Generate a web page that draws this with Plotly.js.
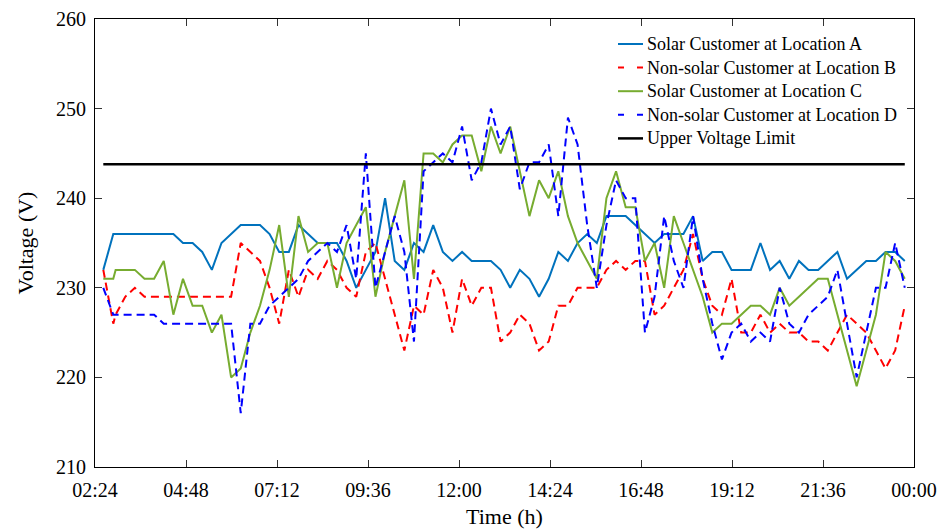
<!DOCTYPE html>
<html>
<head>
<meta charset="utf-8">
<script src="https://cdn.plot.ly/plotly-3.0.1.min.js"></script>
<style>
  html, body { margin: 0; padding: 0; background: #ffffff; }
  #chart { width: 942px; height: 530px; }
</style>
</head>
<body>
<div id="chart"></div>
<script>
// Sampling instants in hours of the day: two early readings, then the regular logger grid
const earlyStamps = [2.619, 2.882];
const gridStart = 2.9437;   // first regular sample (h)
const gridStep = 0.25382;   // sampling interval (h)
const gridCount = 83;

// Axis ticks
const xTickVals = [2.4, 4.8, 7.2, 9.6, 12, 14.4, 16.8, 19.2, 21.6, 24];
const xTickText = ['02:24', '04:48', '07:12', '09:36', '12:00', '14:24', '16:48', '19:12', '21:36', '00:00'];
const yTickVals = [210, 220, 230, 240, 250, 260];

// Series names
const seriesNames = [
  'Solar Customer at Location A',
  'Non-solar Customer at Location B',
  'Solar Customer at Location C',
  'Non-solar Customer at Location D',
  'Upper Voltage Limit'
];

// Measured voltages (V)
const voltsA = [232, 236,
  236, 236, 236, 236, 236, 236, 236, 235, 235, 234,
  232, 235, 236, 237, 237, 237, 236, 234, 234, 237,
  236, 235, 235, 235, 233, 230, 232, 234, 240, 233,
  232, 235, 234, 237, 234, 233, 234, 233, 233, 233,
  232, 230, 232, 231, 229, 231, 234, 233, 235, 236,
  235, 238, 238, 238, 237, 236, 235, 236, 236, 236,
  238, 233, 234, 234, 232, 232, 232, 235, 232, 233,
  231, 233, 232, 232, 233, 234, 231, 232, 233, 233,
  234, 234, 233];

const voltsB = [232, 226,
  227, 229, 230, 229, 229, 229, 229, 229, 229, 229,
  229, 229, 229, 235, 234, 233, 230, 226, 232, 229,
  232, 231, 233, 232, 230, 229, 234, 235, 231, 227,
  223, 228, 227, 232, 230, 225, 231, 228, 230, 230,
  224, 225, 227, 226, 223, 224, 228, 228, 230, 230,
  230, 232, 233, 232, 233, 233, 227, 228, 230, 232,
  236, 231, 228, 227, 231, 225, 225, 227, 225, 226,
  225, 225, 224, 224, 223, 225, 227, 226, 225, 223,
  221, 223, 228];

const voltsC = [231, 231,
  232, 232, 232, 231, 231, 233, 227, 231, 228, 228,
  225, 227, 220, 221, 225, 228, 232, 237, 229, 238,
  234, 235, 235, 230, 235, 237, 239, 229, 234, 238,
  242, 231, 245, 245, 244, 246, 247, 247, 243, 248,
  245, 248, 243, 238, 242, 240, 243, 238, 235, 233,
  231, 240, 243, 239, 239, 233, 235, 230, 238, 235,
  232, 229, 225, 226, 226, 227, 228, 228, 227, 230,
  228, 229, 230, 231, 231, 227, 223, 219, 223, 227,
  234, 233, 231];

const voltsD = [230, 227,
  227, 227, 227, 227, 227, 226, 226, 226, 226, 226,
  226, 226, 226, 216, 226, 226, 228, 229, 230, 231,
  233, 234, 235, 234, 237, 231, 245, 230, 234, 238,
  234, 224, 243, 244, 245, 244, 248, 242, 244, 250,
  246, 248, 241, 244, 244, 246, 238, 249, 246, 237,
  230, 237, 242, 240, 240, 225, 229, 238, 233, 230,
  238, 231, 226, 222, 225, 226, 224, 225, 224, 230,
  226, 225, 227, 228, 229, 232, 226, 220, 225, 230,
  230, 235, 230];

const upperLimit = 243.8;

// Build the time axis
const hours = earlyStamps.slice();
for (let k = 0; k < gridCount; k++) {
  hours.push(+(gridStart + k * gridStep).toFixed(4));
}

const serif = 'Liberation Serif, Times New Roman, serif';
const colors = ['#0072BD', '#FF0000', '#77AC30', '#0000FF', '#000000'];
const plotDash = '8px,5px';
const legendDash = '6px,13px';
const dashed = [false, true, false, true, false];
const widths = [2, 2, 2, 2, 2.5];

function lineTrace(i, y) {
  return {
    type: 'scatter',
    mode: 'lines',
    name: seriesNames[i],
    x: hours,
    y: y,
    line: { color: colors[i], width: widths[i], dash: dashed[i] ? plotDash : 'solid' },
    showlegend: false
  };
}

const traces = [
  lineTrace(0, voltsA),
  lineTrace(1, voltsB),
  lineTrace(2, voltsC),
  lineTrace(3, voltsD),
  {
    type: 'scatter',
    mode: 'lines',
    name: seriesNames[4],
    x: [hours[0], hours[hours.length - 1]],
    y: [upperLimit, upperLimit],
    line: { color: colors[4], width: widths[4] },
    showlegend: false
  }
];

// Plot-area geometry (px) used to place the key in paper coordinates
const M = { l: 95, r: 28, t: 19, b: 63 };
const W = 942, H = 530;
const plotW = W - M.l - M.r, plotH = H - M.t - M.b;
const px2x = p => (p - M.l) / plotW;
const px2y = p => 1 - (p - M.t) / plotH;

// Key: sample line from 618 to 643 px, text from 645 px, rows every 23.6 px from 44 px
const key = { sampleX0: 618, sampleX1: 643, textX: 645, firstRow: 44, rowGap: 23.6 };
const keyShapes = [];
const keyNotes = [];
seriesNames.forEach((name, i) => {
  const rowY = px2y(key.firstRow + i * key.rowGap);
  keyShapes.push({
    type: 'line', xref: 'paper', yref: 'paper',
    x0: px2x(key.sampleX0), x1: px2x(key.sampleX1), y0: rowY, y1: rowY,
    line: { color: colors[i], width: widths[i], dash: dashed[i] ? legendDash : 'solid' }
  });
  keyNotes.push({
    xref: 'paper', yref: 'paper', x: px2x(key.textX), y: rowY,
    xanchor: 'left', yanchor: 'middle', showarrow: false,
    text: name, font: { family: serif, size: 18, color: '#000000' }
  });
});

const axisCommon = {
  showline: true,
  linecolor: '#000000',
  linewidth: 1,
  mirror: 'ticks',
  ticks: 'inside',
  ticklen: 7,
  tickwidth: 1,
  tickcolor: '#333333',
  showgrid: false,
  zeroline: false,
  tickfont: { family: serif, size: 20, color: '#000000' }
};

const layout = {
  width: W,
  height: H,
  margin: M,
  paper_bgcolor: '#ffffff',
  plot_bgcolor: '#ffffff',
  font: { family: serif, size: 18, color: '#000000' },
  showlegend: false,
  shapes: keyShapes,
  annotations: keyNotes,
  xaxis: Object.assign({}, axisCommon, {
    range: [2.4, 24],
    tickmode: 'array',
    tickvals: xTickVals,
    ticktext: xTickText,
    ticklabelstandoff: 5,
    title: { text: 'Time (h)', font: { family: serif, size: 22, color: '#000000' }, standoff: 8 }
  }),
  yaxis: Object.assign({}, axisCommon, {
    range: [210, 260],
    tickmode: 'array',
    tickvals: yTickVals,
    ticklabelstandoff: 4,
    title: { text: 'Voltage (V)', font: { family: serif, size: 22, color: '#000000' }, standoff: 16 }
  })
};

Plotly.newPlot('chart', traces, layout, { displayModeBar: false, staticPlot: true });
</script>
</body>
</html>
